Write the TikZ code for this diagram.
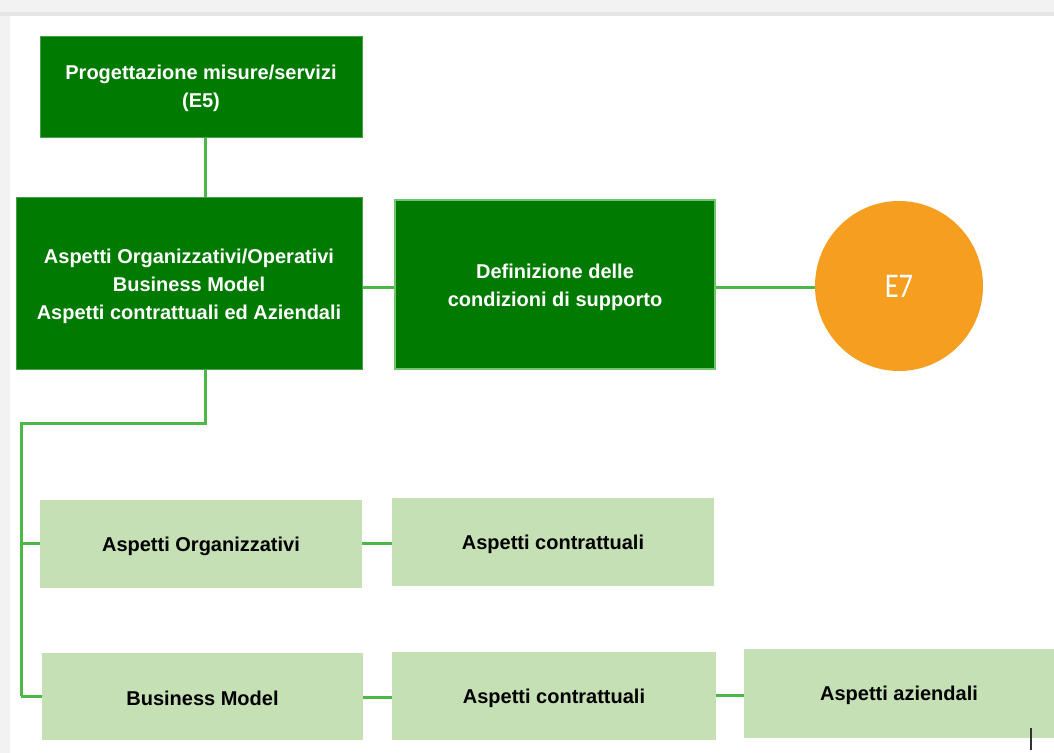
\documentclass[tikz,border=0pt]{standalone}
\usepackage{fontspec}
\setmainfont{Liberation Sans}
\newfontfamily\calib{Carlito}
\usetikzlibrary{shapes.geometric}
\definecolor{dkgreen}{RGB}{0,122,0}
\definecolor{dkedge}{RGB}{70,160,70}
\definecolor{ltgreen}{RGB}{197,224,180}
\definecolor{conncol}{RGB}{76,184,72}
\definecolor{orng}{RGB}{246,158,32}
\tikzset{
  darkbox/.style={rectangle, fill=dkgreen, draw=dkedge, line width=0.75pt, inner sep=0pt},
  lightbox/.style={rectangle, fill=ltgreen, draw=none, inner sep=0pt},
  wtxt/.style={align=center, text=white, inner sep=0pt, font=\bfseries\fontsize{15pt}{21pt}\selectfont},
  btxt/.style={align=center, text=black, inner sep=0pt, font=\bfseries\fontsize{15pt}{21pt}\selectfont},
  conn/.style={draw=conncol, line width=2.25pt},
}
\begin{document}
\begin{tikzpicture}[x=0.75pt, y=-0.75pt]
\useasboundingbox (0,0) rectangle (1054,753);
\fill[black!5] (0,0) rectangle (1054,753);
\fill[black!10] (0,12) rectangle (1054,16);
\fill[white] (10,16) rectangle (1054,753);

\node[darkbox, minimum width=241.5pt, minimum height=75.75pt,
  label={[wtxt, yshift=-1.5pt]center:{Progettazione misure/servizi\\(E5)}}] (e5) at (201,86.5) {};
\node[darkbox, minimum width=259.5pt, minimum height=129pt,
  label={[wtxt, yshift=-2.5pt]center:{Aspetti Organizzativi/Operativi\\Business Model\\Aspetti contrattuali ed Aziendali}}] (main) at (189,283) {};
\node[darkbox, draw=conncol!80, line width=1.5pt, minimum width=240pt, minimum height=126.75pt,
  label={[wtxt, yshift=-2pt]center:{Definizione delle\\condizioni di supporto}}] (def) at (555,284.5) {};
\node[ellipse, fill=orng, inner sep=0pt, minimum width=126pt, minimum height=127.5pt,
  text=white, font=\calib\fontsize{26pt}{30pt}\selectfont] (e7) at (899,286) {\scalebox{0.82}[1]{E7}};

\node[lightbox, minimum width=241.5pt, minimum height=66pt,
  label={[btxt, yshift=-1.5pt]center:Aspetti Organizzativi}] (ao) at (201,544) {};
\node[lightbox, minimum width=241.5pt, minimum height=66pt,
  label={[btxt, yshift=-1.5pt]center:Aspetti contrattuali}] (ac1) at (553,542) {};
\node[lightbox, minimum width=240.75pt, minimum height=65.25pt,
  label={[btxt, yshift=-1.5pt]center:Business Model}] (bm) at (202.5,696.5) {};
\node[lightbox, minimum width=243pt, minimum height=66pt,
  label={[btxt, yshift=-1.5pt]center:Aspetti contrattuali}] (ac2) at (554,696) {};
\node[lightbox, minimum width=232.5pt, minimum height=66.75pt,
  label={[btxt, yshift=-1.5pt]center:Aspetti aziendali}] (az) at (899,693.5) {};

% connectors
\draw[conn] ([xshift=3pt]e5.south) -- ([xshift=3pt]e5.south |- main.north);
\draw[conn] (main.east |- 0,287) -- (def.west |- 0,287);
\draw[conn] (def.east |- 0,287) -- (e7.west |- 0,287);
\coordinate (tk) at (21,423);
\draw[conn] (main.south -| 205,0) |- (tk) -- (tk |- 0,696);
\draw[conn] (tk |- 0,543) -- (ao.west |- 0,543);
\draw[conn] (tk |- 0,696) -- (bm.west |- 0,696);
\draw[conn] (ao.east |- 0,543) -- (ac1.west |- 0,543);
\draw[conn] (bm.east |- 0,697) -- (ac2.west |- 0,697);
\draw[conn] (ac2.east |- 0,695) -- (az.west |- 0,695);

% cursor mark
\draw[black!80, line width=1.2pt] (1031,728) -- (1031,750);
\end{tikzpicture}
\end{document}
